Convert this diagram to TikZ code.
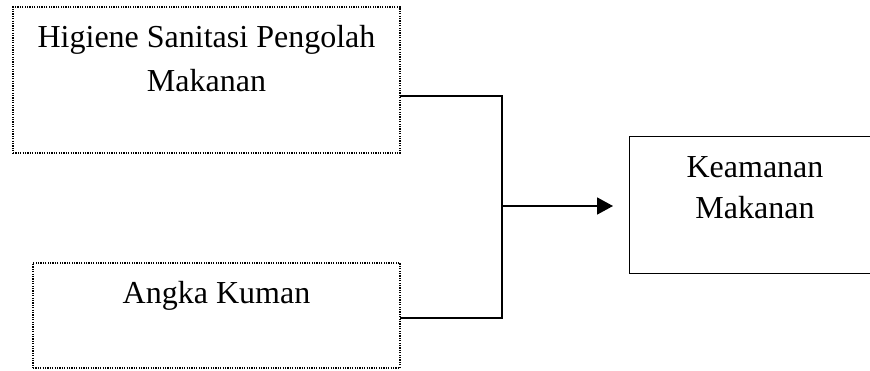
\documentclass[tikz,border=0pt]{standalone}
\usepackage{fontspec}
\setmainfont{Liberation Serif}
\usetikzlibrary{arrows.meta}
\begin{document}
\begin{tikzpicture}[x=0.5pt,y=-0.5pt,
  dotbox/.style={draw, dash pattern=on 0.6pt off 0.6pt, line width=0.6pt, inner sep=0pt, outer sep=0pt, anchor=north west},
  solidbox/.style={draw, line width=0.5pt, inner sep=0pt, outer sep=0pt, anchor=north west},
  lbl/.style={font=\fontsize{16}{22}\selectfont, align=center, anchor=base, inner sep=0pt},
  conn/.style={line width=0.9pt}]
\useasboundingbox (0,0) rectangle (870,370);
\clip (0,0) rectangle (870,370);
\node[dotbox, minimum width=193.5pt, minimum height=73pt] (hs) at (13,7) {};
\node[dotbox, minimum width=183.5pt, minimum height=52.5pt] (ak) at (33,263) {};
\node[solidbox, minimum width=126pt, minimum height=68.5pt] (km) at (629,136) {};
\node[lbl] (hst) at (206.5,91) {Higiene Sanitasi Pengolah\\Makanan};
\node[lbl] (akt) at (216.5,303) {Angka Kuman};
\node[lbl, font=\fontsize{16}{20.5}\selectfont] (kmt) at (755,218) {Keamanan\\Makanan};
\coordinate (j) at (502,206);
\draw[conn] ([yshift=-8pt]hs.east) -| (j);
\draw[conn] ([yshift=-1.25pt]ak.east) -| (j);
\draw[conn, -{Triangle[length=8pt,width=8.5pt]}] (j) -- ([xshift=-8pt]km.west |- j);
\end{tikzpicture}
\end{document}
